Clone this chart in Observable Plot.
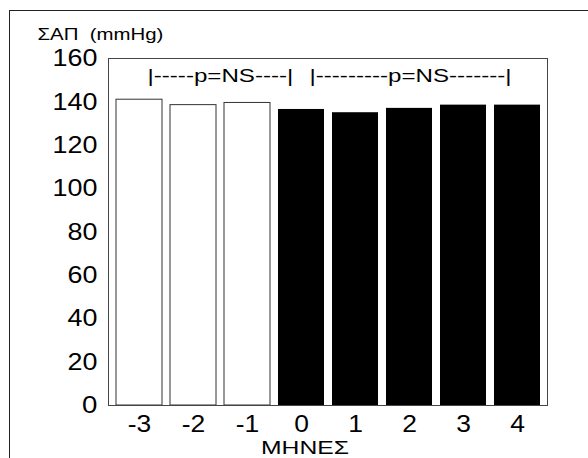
<!DOCTYPE html>
<html>
<head>
<meta charset="utf-8">
<script src="https://cdn.jsdelivr.net/npm/d3@7"></script>
<script src="https://cdn.jsdelivr.net/npm/@observablehq/plot@0.6"></script>
<style>
  body { margin: 0; background: #fff; }
  #wrap { position: relative; width: 588px; height: 458px; overflow: hidden; background: #fff; }
  #border { position: absolute; left: 9px; top: 10px; width: 620px; height: 480px;
            border-left: 1.5px solid #222; border-top: 1.5px solid #222; pointer-events: none; }
  #wrap svg { position: absolute; left: 0; top: 0; }
</style>
</head>
<body>
<div id="wrap"><div id="border"></div></div>
<script>
// ---- data ----
const months = [-3, -2, -1, 0, 1, 2, 3, 4];
const sbp = [141, 138.5, 139.5, 136.5, 135, 137, 138.5, 138.5];
const yTicks = [0, 20, 40, 60, 80, 100, 120, 140, 160];
const annotations = ["|-----p=NS----|", "|---------p=NS-------|"];
const annotationStart = [-3, 0];
const annotationY = [152, 152];
const yTitle = "ΣΑΠ\u00a0 (mmHg)";
const xTitle = "ΜΗΝΕΣ";

const data = months.map((m, i) => ({month: m, value: sbp[i]}));
const before = data.filter(d => d.month < 0);
const after = data.filter(d => d.month >= 0);
const font = '"Liberation Sans", Arial, Helvetica, sans-serif';

const chart = Plot.plot({
  width: 588,
  height: 458,
  marginLeft: 108,
  marginRight: 41,
  marginTop: 58,
  marginBottom: 53,
  style: {fontFamily: font, background: "transparent", color: "#000", overflow: "visible"},
  x: {type: "band", domain: months, paddingInner: 0.15, paddingOuter: 0.075, label: null},
  y: {domain: [0, 160], label: null},
  marks: [
    Plot.barY(before, {x: "month", y: "value", fill: "white", stroke: "#333", strokeWidth: 1}),
    Plot.barY(after, {x: "month", y: "value", fill: "black"}),
    Plot.frame({stroke: "#444", strokeWidth: 1}),
    Plot.axisY({ticks: yTicks, tickSize: 0, tickPadding: 11, fontSize: 24, label: null}),
    Plot.axisX({tickSize: 0, tickPadding: 10, fontSize: 23, label: null}),
    Plot.text(annotations, {
      x: (d, i) => annotationStart[i], y: (d, i) => annotationY[i], text: d => d,
      textAnchor: "start", dx: 8, fontSize: 18, lineAnchor: "middle"
    }),
    Plot.text([yTitle], {frameAnchor: "top-left", text: d => d, textAnchor: "start",
      dx: -71, dy: -24, fontSize: 17, lineAnchor: "middle"}),
    Plot.text([xTitle], {frameAnchor: "bottom", text: d => d, dx: -23, dy: 42.5,
      fontSize: 18, lineAnchor: "middle"})
  ]
});

document.getElementById("wrap").appendChild(chart);

// stretch glyphs horizontally to mimic the wide type of the original
d3.select(chart).selectAll("text").each(function() {
  const t = this.textContent;
  let f = 1.15;
  if (t.indexOf("p=NS") >= 0) f = 1.34;
  else if (t.indexOf("mmHg") >= 0) f = 1.2;
  else if (t === xTitle) f = 1.37;
  else if (yTicks.includes(+t) && t.length > 1 && +t >= 20) f = 1.12;
  const w = this.getComputedTextLength();
  this.setAttribute("textLength", (w * f).toFixed(1));
  this.setAttribute("lengthAdjust", "spacingAndGlyphs");
});
</script>
</body>
</html>
